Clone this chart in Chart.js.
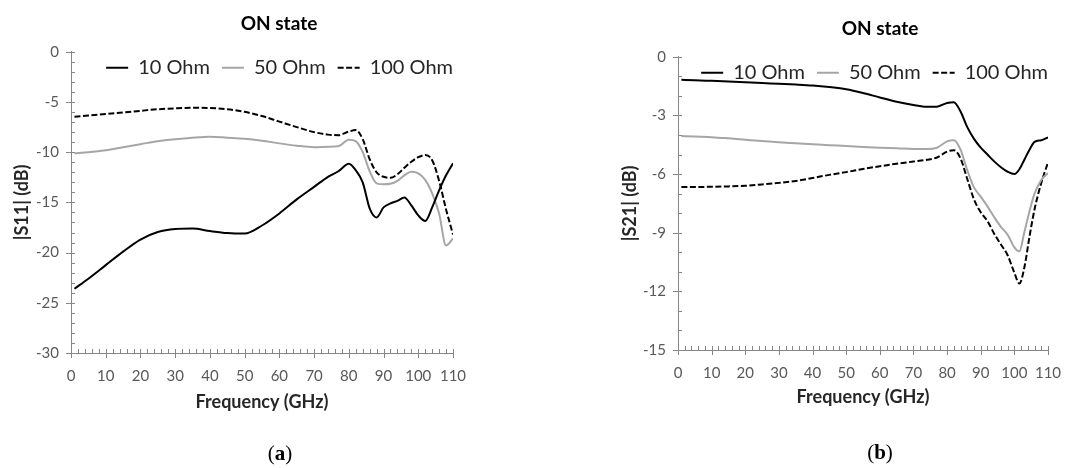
<!DOCTYPE html>
<html>
<head>
<meta charset="utf-8">
<title>ON state - |S11| and |S21|</title>
<script src="https://cdn.jsdelivr.net/npm/chart.js@4.4.0/dist/chart.umd.min.js"></script>
<style>
  body { margin: 0; background: #fff; }
  #wrap { position: relative; width: 1078px; height: 468px; overflow: hidden; }
  canvas { position: absolute; top: 0; }
  #chartA { left: 0; }
  #chartB { left: 540px; }
  .cap { position: absolute; font-family: "Liberation Serif", serif; font-size: 21px; color: #000;
         transform: translate(-50%, -50%); white-space: nowrap; }
</style>
</head>
<body>
<div id="wrap">
  <canvas id="chartA" width="540" height="468"></canvas>
  <canvas id="chartB" width="538" height="468"></canvas>
  <div class="cap" style="left:280px; top:453px">(<b>a</b>)</div>
  <div class="cap" style="left:880px; top:452px">(<b>b</b>)</div>
</div>
<script>
// data (dB vs GHz)
const seriesNames = ["10 Ohm", "50 Ohm", "100 Ohm"];

// (a) |S11|
const freqA = [1, 5, 10, 15, 20, 25, 30, 35, 40, 45, 50, 55, 60, 65, 70, 74, 77, 80, 82, 84, 86, 88, 90, 92, 94, 96, 98, 100, 102, 104, 106, 108, 110];
const s11_10 = [-23.6, -22.6, -21.25, -19.9, -18.7, -17.95, -17.65, -17.6, -17.85, -18.05, -18.1, -17.3, -16.1, -14.7, -13.45, -12.45, -11.9, -11.15, -11.8, -13.0, -15.6, -16.5, -15.5, -15.1, -14.85, -14.5, -15.3, -16.3, -16.85, -15.5, -13.8, -12.3, -11.1];
const s11_50 = [-10.1, -10.0, -9.8, -9.5, -9.2, -8.9, -8.7, -8.55, -8.46, -8.55, -8.65, -8.85, -9.12, -9.35, -9.5, -9.45, -9.4, -8.75, -8.9, -10.0, -11.9, -13.1, -13.2, -13.15, -12.85, -12.3, -11.95, -12.1, -12.75, -14.1, -16.1, -19.3, -18.6];
const s11_100 = [-6.47, -6.35, -6.2, -6.05, -5.88, -5.72, -5.63, -5.58, -5.6, -5.72, -5.98, -6.4, -6.95, -7.5, -8.0, -8.25, -8.3, -7.95, -7.8, -8.7, -10.7, -12.0, -12.45, -12.55, -12.2, -11.55, -10.95, -10.5, -10.28, -10.8, -12.85, -15.7, -18.2];

// (b) |S21|
const freqB = [1, 5, 10, 15, 20, 25, 30, 35, 40, 45, 50, 55, 60, 65, 70, 74, 77, 80, 82, 84, 86, 88, 90, 92, 94, 96, 98, 100, 101.5, 103, 104.5, 106, 108, 110];
const s21_10 = [-1.18, -1.2, -1.23, -1.26, -1.3, -1.34, -1.38, -1.42, -1.47, -1.55, -1.66, -1.85, -2.08, -2.3, -2.47, -2.56, -2.55, -2.36, -2.32, -2.8, -3.6, -4.2, -4.65, -5.0, -5.35, -5.65, -5.88, -6.0, -5.75, -5.25, -4.75, -4.35, -4.27, -4.12];
const s21_50 = [-4.05, -4.08, -4.11, -4.17, -4.24, -4.31, -4.37, -4.42, -4.47, -4.52, -4.56, -4.61, -4.65, -4.68, -4.72, -4.72, -4.65, -4.33, -4.27, -4.75, -5.8, -6.68, -7.15, -7.65, -8.2, -8.7, -9.1, -9.75, -9.95, -8.95, -7.9, -7.0, -6.3, -5.95];
const s21_100 = [-6.66, -6.66, -6.65, -6.63, -6.6, -6.53, -6.45, -6.35, -6.2, -6.04, -5.9, -5.74, -5.6, -5.47, -5.36, -5.27, -5.15, -4.85, -4.78, -5.2, -6.25, -7.3, -7.95, -8.4, -9.05, -9.6, -10.15, -11.05, -11.6, -10.75, -9.2, -7.8, -6.45, -5.4];

// looks of the three curves
const lineColors = ["#000000", "#a6a6a6", "#000000"];
const lineDashes = [[], [], [6, 2.5]];

Chart.defaults.font.family = "Lato";

// excel-like ticks, plus nudging the title and legend where the original has them
const excelAxes = {
  id: "excelAxes",
  afterLayout(chart, args, opts) {
    const area = chart.chartArea;
    if (chart.titleBlock) {
      chart.titleBlock.left += opts.titleShift;
      chart.titleBlock.right += opts.titleShift;
    }
    const lg = chart.legend;
    if (lg) {
      const h = lg.bottom - lg.top;
      const dx = area.right + opts.legendPad - lg.right;
      lg.left += dx;
      lg.right += dx;
      lg.top = area.top + opts.legendDy;
      lg.bottom = lg.top + h;
    }
  },
  afterDraw(chart, args, opts) {
    const ctx = chart.ctx;
    const xs = chart.scales.x, ys = chart.scales.y;
    const ax = chart.chartArea.left, ay = chart.chartArea.bottom;
    ctx.save();
    ctx.strokeStyle = "#868686";
    ctx.lineWidth = 1;
    ctx.beginPath();
    for (let v = xs.min; v <= xs.max + 1e-6; v += opts.xMinor) {
      const px = Math.round(xs.getPixelForValue(v)) + 0.5;
      const major = Math.abs(v / opts.xMajor - Math.round(v / opts.xMajor)) < 1e-6;
      ctx.moveTo(px, ay - 4);
      ctx.lineTo(px, ay + (major ? 5 : 0));
    }
    for (let v = ys.min; v <= ys.max + 1e-6; v += opts.yMinor) {
      const py = Math.round(ys.getPixelForValue(v)) + 0.5;
      const major = Math.abs(v / opts.yMajor - Math.round(v / opts.yMajor)) < 1e-6;
      ctx.moveTo(ax + 4, py);
      ctx.lineTo(ax - (major ? 5 : 0), py);
    }
    ctx.stroke();
    ctx.restore();
  }
};

// legend line samples take the dash/width of the dataset line, not of its points
function legendLabels(chart) {
  const items = Chart.defaults.plugins.legend.labels.generateLabels(chart);
  items.forEach(function (it) {
    const ds = chart.data.datasets[it.datasetIndex];
    it.lineDash = ds.borderDash;
    it.lineWidth = ds.borderWidth;
    it.strokeStyle = ds.borderColor;
    it.fillStyle = ds.borderColor;
  });
  return items;
}

function makeData(freq, list) {
  return list.map(function (vals, i) {
    return {
      label: seriesNames[i],
      data: freq.map(function (f, j) { return { x: f, y: vals[j] }; }),
      borderColor: lineColors[i],
      backgroundColor: lineColors[i],
      borderDash: lineDashes[i],
      borderWidth: 2,
      pointRadius: 0,
      tension: 0.4,
      cubicInterpolationMode: "monotone",
      fill: false
    };
  });
}

function drawChart(id, freq, list, s) {
  return new Chart(document.getElementById(id), {
    type: "line",
    data: { datasets: makeData(freq, list) },
    plugins: [excelAxes],
    options: {
      responsive: false,
      animation: false,
      events: [],
      layout: { padding: { left: s.padLeft, right: s.padRight, top: 0, bottom: s.padBottom } },
      scales: {
        x: {
          type: "linear", min: 0, max: 110,
          grid: { display: false, drawTicks: false },
          border: { display: true, color: "#868686", width: 1 },
          ticks: { stepSize: 10, padding: 14, color: "#595959", font: { size: 15 } },
          title: { display: true, text: "Frequency (GHz)", color: "#262626",
                   font: { size: 18, weight: "bold", lineHeight: 1.2 }, padding: { top: 0, bottom: s.xTitlePad } },
          afterFit: function (scale) { scale.height = 60; }
        },
        y: {
          type: "linear", min: s.yMin, max: 0,
          grid: { display: false, drawTicks: false },
          border: { display: true, color: "#868686", width: 1 },
          ticks: { stepSize: s.yStep, padding: 12, color: "#595959", font: { size: 15 } },
          title: { display: true, text: s.yTitle, color: "#262626",
                   font: { size: 18, weight: "bold", lineHeight: 1.2 }, padding: { top: 11, bottom: 0 } },
          afterFit: function (scale) { scale.width = s.yWidth; }
        }
      },
      plugins: {
        title: {
          display: true, text: "ON state", fullSize: false, color: "#000",
          font: { size: 19, weight: "bold", lineHeight: 1.2 },
          padding: { top: s.titleTop, bottom: s.titleBottom }
        },
        legend: {
          display: true, position: "bottom", align: "end", maxHeight: 40,
          labels: {
            usePointStyle: true, pointStyle: "line", pointStyleWidth: 22,
            padding: 12, color: "#262626", font: { size: 20 },
            generateLabels: legendLabels
          }
        },
        tooltip: { enabled: false },
        excelAxes: { xMajor: 10, xMinor: 2, yMajor: s.yStep, yMinor: 1,
                     titleShift: 17, legendPad: 12, legendDy: -6 }
      }
    }
  });
}

drawChart("chartA", freqA, [s11_10, s11_50, s11_100], {
  padLeft: 0, padRight: 87, padBottom: 15, yWidth: 71,
  yMin: -30, yStep: 5, yTitle: "|S11| (dB)",
  titleTop: 12, titleBottom: 17, xTitlePad: 0
});

drawChart("chartB", freqB, [s21_10, s21_50, s21_100], {
  padLeft: 68, padRight: 30, padBottom: 18, yWidth: 70,
  yMin: -15, yStep: 3, yTitle: "|S21| (dB)",
  titleTop: 17, titleBottom: 17, xTitlePad: 2
});
</script>
</body>
</html>
